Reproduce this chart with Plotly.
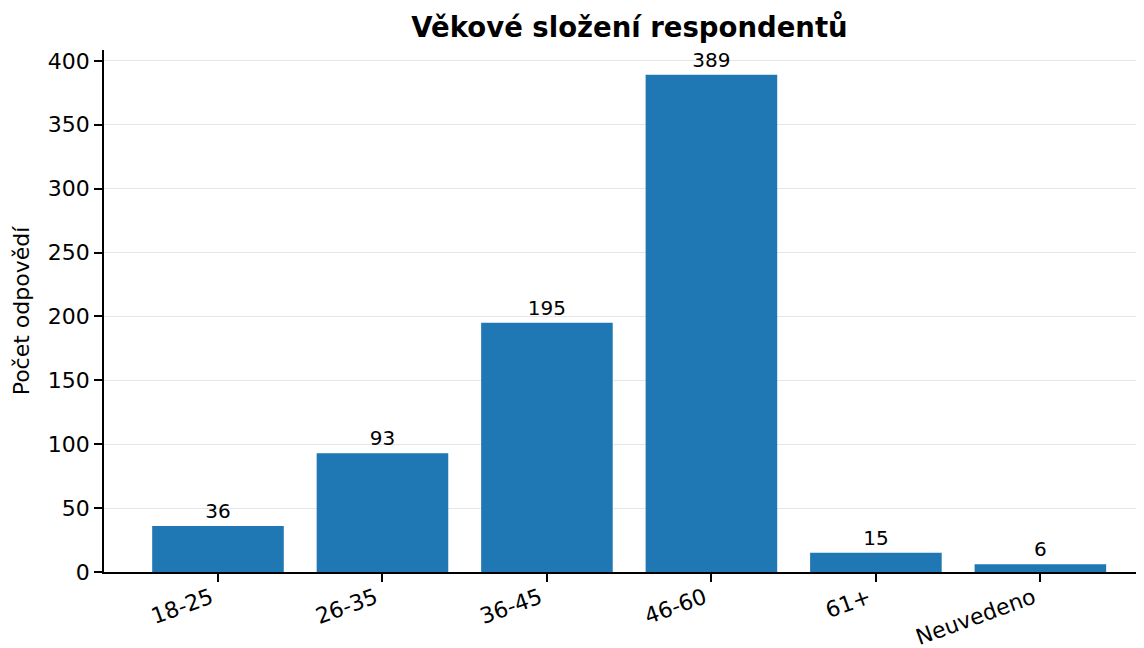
import plotly.graph_objects as go

categories = ["18-25", "26-35", "36-45", "46-60", "61+", "Neuvedeno"]
counts = [36, 93, 195, 389, 15, 6]
y_ticks = [0, 50, 100, 150, 200, 250, 300, 350, 400]

W, H = 1136, 640  # page body adds an 8px offset

fig = go.Figure()
fig.add_trace(go.Bar(
    x=list(range(len(categories))),
    y=counts,
    width=0.8,
    marker=dict(color="#1f77b4", line=dict(width=0)),
    text=[str(c) for c in counts],
    textposition="outside",
    textfont=dict(family="DejaVu Sans", size=20, color="#000000"),
    cliponaxis=False,
))

fig.update_layout(
    width=W, height=H,
    margin=dict(l=96, r=0, t=42, b=76),
    plot_bgcolor="white", paper_bgcolor="white",
    font=dict(family="DejaVu Sans", color="#000000"),
    title=dict(text="<b>Věkové složení respondentů</b>", x=629.5 / W - 8 / W, xanchor="center",
               y=1 - 19 / H, yanchor="middle",
               font=dict(family="DejaVu Sans", size=27.5, color="#000000")),
    showlegend=False,
    bargap=0.2,
)
fig.update_xaxes(
    range=[-0.693, 5.63],
    tickmode="array",
    tickvals=list(range(len(categories))),
    ticktext=categories,
    tickangle=-20,
    tickfont=dict(size=22),
    ticks="outside", ticklen=8, tickwidth=1.5, tickcolor="black",
    ticklabelshift=-7,
    ticklabelstandoff=-5,
    showline=True, linecolor="black", linewidth=1.5,
    showgrid=False, zeroline=False,
    automargin=False,
)
fig.update_yaxes(
    range=[0, 408.45],
    tickmode="array",
    tickvals=y_ticks,
    tickfont=dict(size=22),
    ticks="outside", ticklen=8, tickwidth=1.5, tickcolor="black",
    showline=True, linecolor="black", linewidth=1.5,
    showgrid=True, gridcolor="#e6e6e6", gridwidth=1,
    zeroline=False,
    title=dict(text="Počet odpovědí", font=dict(size=22), standoff=12),
)

fig.write_html("out.html")
